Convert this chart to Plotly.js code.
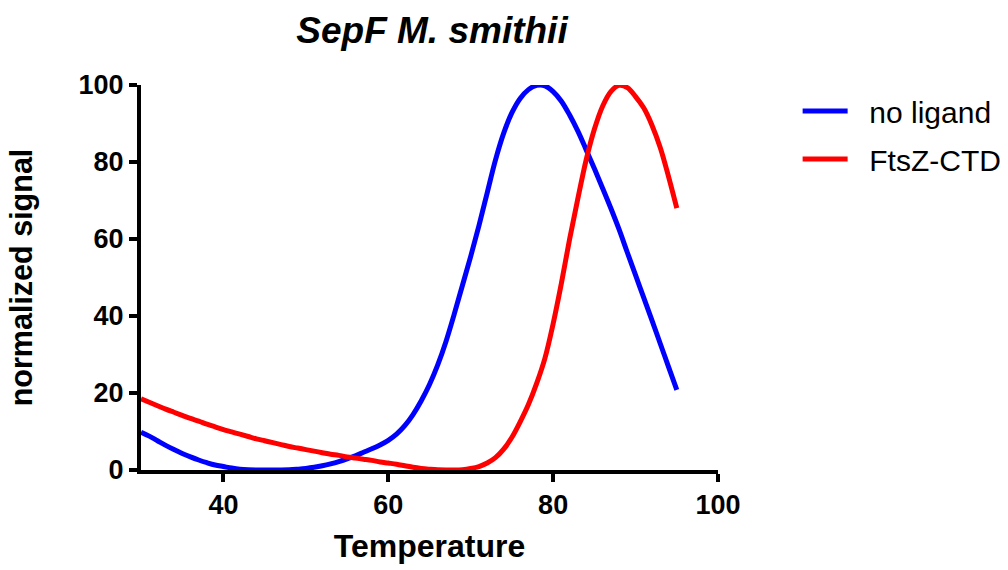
<!DOCTYPE html>
<html>
<head>
<meta charset="utf-8">
<script src="https://cdn.plot.ly/plotly-3.0.1.min.js"></script>
<style>html,body{margin:0;padding:0;background:#fff;}#chart{width:1008px;height:570px;}</style>
</head>
<body>
<div id="chart"></div>
<script>
const temperature = [30,31,32,33,34,35,36,37,38,39,40,41,42,43,44,45,46,47,48,49,50,51,52,53,54,55,56,57,58,59,60,61,62,63,64,65,66,67,68,69,70,71,72,73,74,75,76,77,78,79,80,81,82,83,84,85,86,87,88,89,90,91,92,93,94,95];
const noLigand = [9.8,8.8,7.6,6.4,5.3,4.3,3.4,2.6,1.9,1.3,0.9,0.5,0.2,0.05,0,0,0,0,0.05,0.2,0.4,0.7,1.1,1.6,2.2,2.9,3.7,4.6,5.5,6.5,7.7,9.3,11.5,14.4,18.0,22.2,27.3,33.4,40.5,48.0,55.5,63.5,72.0,80.5,87.5,92.8,96.5,98.8,99.9,99.8,98.3,95.8,92.2,88.0,83.2,78.3,73.2,68.0,62.5,56.5,50.6,44.7,38.8,32.8,26.8,20.8];
const ftszCTD = [18.5,17.6,16.7,15.8,15.0,14.2,13.4,12.7,11.9,11.2,10.5,9.9,9.3,8.7,8.1,7.6,7.1,6.6,6.1,5.7,5.3,4.9,4.5,4.1,3.8,3.4,3.1,2.8,2.5,2.1,1.8,1.5,1.1,0.7,0.4,0.2,0.05,0,0,0.1,0.4,0.9,1.8,3.2,5.4,8.5,12.5,17.0,22.5,29.0,38.0,48.5,60.0,70.5,80.5,88.5,94.5,98.3,99.9,99.3,97.0,94.0,89.5,83.7,76.2,68.0];
const seriesNames = ["no ligand", "FtsZ-CTD"];
const xTicks = [40, 60, 80, 100];
const yTicks = [0, 20, 40, 60, 80, 100];

const FONT = "Liberation Sans, Arial, sans-serif";

const traces = [
  {x: temperature, y: noLigand, name: "&nbsp;&nbsp;" + seriesNames[0], type: "scatter", mode: "lines",
   line: {color: "#0000ff", width: 5, shape: "spline"}, legendgroup: "a"},
  {x: temperature, y: ftszCTD, name: "&nbsp;&nbsp;" + seriesNames[1], type: "scatter", mode: "lines",
   line: {color: "#ff0000", width: 5, shape: "spline"}, legendgroup: "b"}
];

const layout = {
  width: 1008, height: 570,
  margin: {l: 141, r: 290, t: 85, b: 100, pad: 0, autoexpand: false},
  paper_bgcolor: "#fff", plot_bgcolor: "#fff",
  font: {family: FONT, color: "#000"},
  title: {text: "<b><i>SepF M. smithii</i></b>", font: {family: FONT, size: 37, color: "#000"},
          x: 432/1008, xanchor: "center", xref: "container", y: 0.947, yanchor: "middle"},
  xaxis: {
    range: [30, 100], showgrid: false, zeroline: false,
    showline: true, linecolor: "#000", linewidth: 4,
    ticks: "outside", ticklen: 8, tickwidth: 4, tickcolor: "#000",
    tickvals: xTicks, ticktext: xTicks.map(v => "<b>" + v + "</b>"),
    tickfont: {family: FONT, size: 27, color: "#000"},
    title: {text: "<b>Temperature</b>", font: {family: FONT, size: 32, color: "#000"}, standoff: 16}
  },
  yaxis: {
    range: [0, 100], showgrid: false, zeroline: false,
    showline: true, linecolor: "#000", linewidth: 4,
    ticks: "outside", ticklen: 8, tickwidth: 4, tickcolor: "#000",
    tickvals: yTicks, ticktext: yTicks.map(v => "<b>" + v + "</b>"),
    tickfont: {family: FONT, size: 27, color: "#000"},
    title: {text: "<b>normalized signal</b>", font: {family: FONT, size: 30.5, color: "#000"}, standoff: 38}
  },
  showlegend: true,
  legend: {x: 1.138, xanchor: "left", y: 1.0, yanchor: "top", bgcolor: "rgba(0,0,0,0)",
           font: {family: FONT, size: 30, color: "#000"}, tracegroupgap: 6, itemwidth: 45}
};

Plotly.newPlot("chart", traces, layout, {displayModeBar: false, staticPlot: true});
</script>
</body>
</html>
